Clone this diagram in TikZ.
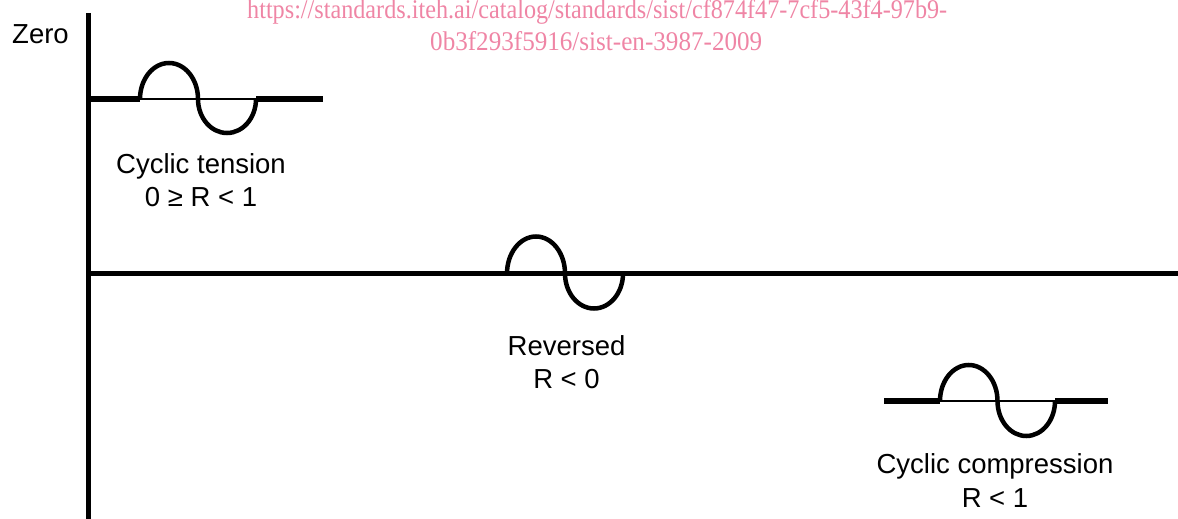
\documentclass[tikz,border=0pt]{standalone}
\usepackage{fontspec}
\setmainfont{Liberation Sans}
\newfontfamily\wmfont{Liberation Serif}
\usepackage{graphicx}
\definecolor{wmpink}{RGB}{239,133,165}
\begin{document}
\begin{tikzpicture}[x=1pt,y=-1pt,
  lbl/.style={font=\fontsize{27.5}{33}\selectfont, inner sep=0pt, anchor=base},
  wm/.style={font=\wmfont\fontsize{27}{30}\selectfont, text=wmpink, inner sep=0pt, anchor=base west},
  axisline/.style={line width=5.5pt},
  thickline/.style={line width=6pt},
  thinline/.style={line width=2pt},
  waveline/.style={line width=4.5pt},
]
\useasboundingbox (0,0) rectangle (1178,519);

% axes
\coordinate (atop) at (88.5,13);
\coordinate (abot) at (88.5,519);
\coordinate (mleft) at (86,273.5);
\coordinate (mright) at (1178,273.5);
\draw[axisline] (atop) -- (abot);
\draw[axisline] (mleft) -- (mright);

% top waveform (cyclic tension)
\coordinate (t0) at (88,99);
\coordinate (t1) at (140,99);
\coordinate (t2) at (256,99);
\coordinate (t3) at (323,99);
\draw[thickline] (t0) -- (t1);
\draw[thinline] (t1) -- (t2);
\draw[thickline] (t2) -- (t3);
\draw[waveline] (t1) arc[start angle=180,end angle=0,x radius=29pt,y radius=36pt]
                     arc[start angle=180,end angle=360,x radius=29pt,y radius=34pt];

% middle waveform (reversed)
\coordinate (m1) at (507,273.5);
\draw[waveline] (m1) arc[start angle=180,end angle=0,x radius=29pt,y radius=37pt]
                     arc[start angle=180,end angle=360,x radius=29pt,y radius=35pt];

% bottom waveform (cyclic compression)
\coordinate (b0) at (884,401);
\coordinate (b1) at (940,401);
\coordinate (b2) at (1055,401);
\coordinate (b3) at (1108,401);
\draw[thickline] (b0) -- (b1);
\draw[thinline] (b1) -- (b2);
\draw[thickline] (b2) -- (b3);
\draw[waveline] (b1) arc[start angle=180,end angle=0,x radius=28.75pt,y radius=36pt]
                     arc[start angle=180,end angle=360,x radius=28.75pt,y radius=35pt];

% labels
\node[lbl, anchor=base west] (zero) at (12,44) {Zero};
\node[lbl] (ct1) at (201,173) {Cyclic tension};
\node[lbl] (ct2) at (201,206) {0 ≥ R < 1};
\node[lbl] (rv1) at (566.5,355) {Reversed};
\node[lbl] (rv2) at (566.5,388) {R < 0};
\node[lbl] (cc1) at (995,473) {Cyclic compression};
\node[lbl] (cc2) at (995,507) {R < 1};

% watermark
\node[wm] (wm1) at (247,19) {\resizebox{700pt}{\height}{https://standards.iteh.ai/catalog/standards/sist/cf874f47-7cf5-43f4-97b9-}};
\node[wm] (wm2) at (430,51) {\resizebox{332pt}{\height}{0b3f293f5916/sist-en-3987-2009}};
\end{tikzpicture}
\end{document}
